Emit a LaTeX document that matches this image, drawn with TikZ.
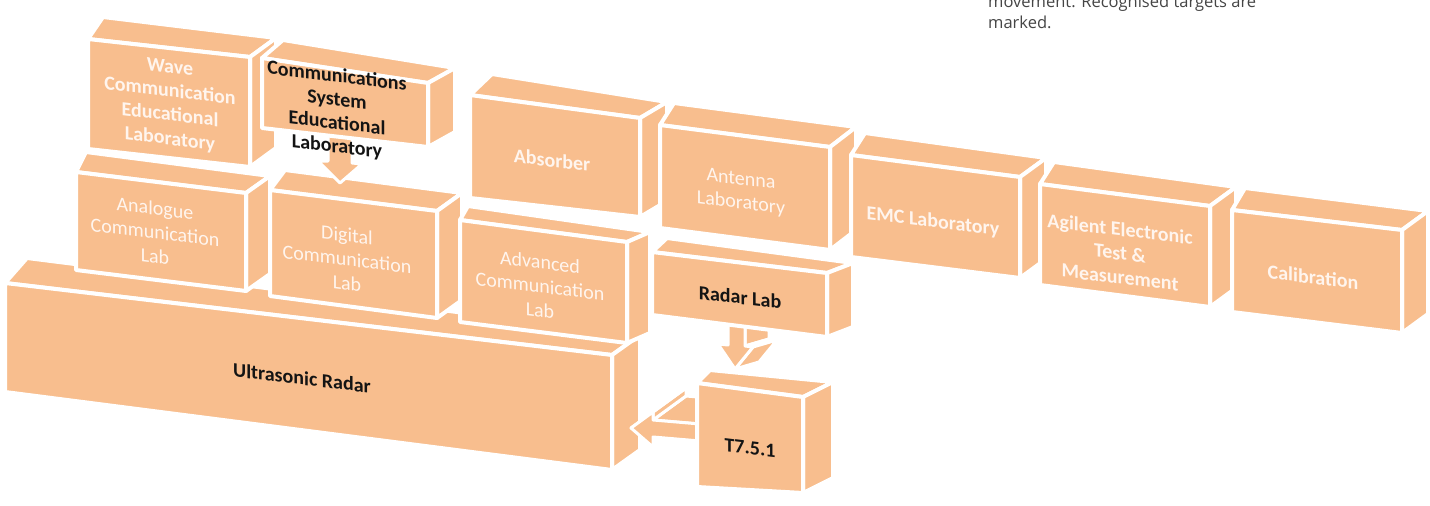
\documentclass[tikz,border=0pt]{standalone}
\usepackage{fontspec}
\setmainfont{Carlito}
\newfontfamily\captionfont{Open Sans}
\usetikzlibrary{calc}

\definecolor{peach}{HTML}{F8BE8E}
\definecolor{softwhite}{HTML}{FFF5EE}
\definecolor{inkgrey}{HTML}{454545}
\definecolor{inkblack}{HTML}{141414}

% A lab block: #1 name, #2..#5 front corners (TL, TR, BR, BL),
% #6 depth of the left top edge, #7 depth of the right edge
\newcommand\labbox[7]{%
  \coordinate (#1-tl) at (#2);
  \coordinate (#1-tr) at (#3);
  \coordinate (#1-br) at (#4);
  \coordinate (#1-bl) at (#5);
  \coordinate (#1-btl) at ($(#1-tl)+(#6)$);
  \coordinate (#1-btr) at ($(#1-tr)+(#7)$);
  \coordinate (#1-bbr) at ($(#1-br)+(#7)$);
  \path[face] (#1-tl) -- (#1-btl) -- (#1-btr) -- (#1-tr) -- cycle;
  \path[face] (#1-tr) -- (#1-btr) -- (#1-bbr) -- (#1-br) -- cycle;
  \path[face] (#1-tl) -- (#1-tr) -- (#1-br) -- (#1-bl) -- cycle;
}

\begin{document}
\begin{tikzpicture}[x=1pt,y=-1pt,
  face/.style={fill=peach,draw=white,line width=4pt,line join=round},
  arrowface/.style={fill=peach,draw=white,line width=3pt,line join=round},
  lbl/.style={align=center,yslant=-0.12,inner sep=0pt},
  lightlbl/.style={lbl,text=softwhite,font=\fontsize{20}{24}\selectfont},
  boldlight/.style={lbl,text=softwhite,font=\fontsize{20}{24}\selectfont\bfseries},
  darklbl/.style={lbl,text=inkblack,font=\fontsize{20}{23.5}\selectfont\bfseries},
  captxt/.style={anchor=base west,inner sep=0pt,text=inkgrey,
    font=\captionfont\fontsize{16.5}{20}\selectfont},
]
\useasboundingbox (0,0) rectangle (1430,506);
\fill[white] (0,0) rectangle (1430,506);

% lower tier
\labbox{ultra}{5,283}{612,355}{612,470}{5,392}{22,-25}{28,-20}
\labbox{analog}{76,172}{246,193}{246,291}{76,270}{10,-20}{24,-17}
\labbox{digital}{270,190}{437,211}{437,318}{270,296}{15,-20}{25,-18}
\labbox{advanced}{460,220}{627,242}{627,343}{460,322}{8,-14}{23,-10}

% arrow from T7.5.1 into the Ultrasonic Radar block
\coordinate (a3-start) at (700,432);
\coordinate (a3-tip) at (631,428);
\path[arrowface] let \p1=(a3-start) in
  (\x1-47pt,\y1+12pt) -- (\x1,\y1+8pt) -- (\x1+33pt,\y1+32pt) -- (\x1-14pt,\y1+36pt) -- cycle;
\path[arrowface] let \p1=(a3-start) in
  (\x1-47pt,\y1+20pt) -- (\x1-47pt,\y1+12pt) -- (\x1-14pt,\y1+36pt) -- (\x1-14pt,\y1+44pt) -- cycle;
\path[arrowface] let \p1=(a3-start), \p2=(a3-tip) in
  (\p2) -- (\x1-47pt,\y1+20pt) -- (\x1-14pt,\y1+44pt) -- (\x2+33pt,\y2+24pt) -- cycle;
\path[arrowface] let \p1=(a3-start), \p2=(a3-tip) in
  (\x1,\y1+8pt) -- (\x1-47pt,\y1+12pt) -- (\x1-47pt,\y1+20pt) -- (\p2)
  -- (\x1-47pt,\y1-15pt) -- (\x1-47pt,\y1-5pt) -- (\x1,\y1-9pt) -- cycle;

\labbox{tbox}{697,383}{803,397}{803,493}{697,487}{13,-13}{30,-15}

% arrow from Radar Lab down to T7.5.1
\coordinate (a2-start) at (737,322);
\coordinate (a2-tip) at (735,369);
\path[arrowface] let \p1=(a2-start), \p2=(a2-tip) in
  (\x1+8pt,\y1) -- (\x1+8pt,\y2+23pt) -- (\x1+32pt,\y2+30pt) -- (\x1+32pt,\y1+7pt) -- cycle;
\path[arrowface] let \p1=(a2-start), \p2=(a2-tip) in
  (\x1+8pt,\y2+23pt) -- (\x1+16pt,\y2+22pt) -- (\x1+40pt,\y2+29pt) -- (\x1+32pt,\y2+30pt) -- cycle;
\path[arrowface] let \p1=(a2-start), \p2=(a2-tip) in
  (\x1+16pt,\y2+22pt) -- (\p2) -- (\x2+24pt,\y2+7pt) -- (\x1+40pt,\y2+29pt) -- cycle;
\path[arrowface] let \p1=(a2-start), \p2=(a2-tip) in
  (\x1-9pt,\y1) -- (\x1+8pt,\y1) -- (\x1+8pt,\y2+23pt) -- (\x1+16pt,\y2+22pt) -- (\p2)
  -- (\x1-19pt,\y2+25pt) -- (\x1-9pt,\y2+24pt) -- cycle;

\labbox{radar}{652,252}{827,273}{827,337}{652,315}{15,-14}{26,-10}

% upper tier
\labbox{wave}{88,39}{250,57}{250,167}{88,149}{15,-22}{26,-19}

% arrow from the Communications System block down to Digital
\coordinate (a1-start) at (340,134);
\coordinate (a1-tip) at (340,183);
\path[arrowface] let \p1=(a1-start), \p2=(a1-tip) in
  (\x1-12pt,\y1) -- (\x1+12pt,\y1) -- (\x1+12pt,\y2+20pt) -- (\x1+22pt,\y2+19pt) -- (\p2)
  -- (\x1-22pt,\y2+22pt) -- (\x1-12pt,\y2+22pt) -- cycle;

\labbox{comm}{262,58}{428,83}{428,147}{262,128}{21,-18}{27,-15}
\labbox{absorb}{470,95}{640,118}{640,217}{470,198}{22,-21}{27,-16}
\labbox{antenna}{660,125}{830,147}{830,250}{660,228}{14,-22}{26,-20}
\labbox{emc}{851,155}{1020,177}{1020,278}{851,257}{14,-22}{26,-19}
\labbox{agilent}{1040,184}{1210,206}{1210,307}{1040,285}{14,-22}{26,-19}
\labbox{calib}{1232,210}{1402,230}{1402,333}{1232,312}{13,-22}{26,-19}

% labels
\node[boldlight] (wave) at (170,104) {Wave\\Communication\\Educational\\Laboratory};
\node[darklbl] (comm) at (337,112) {Communications\\System\\Educational\\Laboratory};
\node[boldlight] (absorb) at (552,160) {Absorber};
\node[lightlbl] (antenna) at (741,192) {Antenna\\Laboratory};
\node[boldlight] (emc) at (933,222) {EMC Laboratory};
\node[boldlight] (agilent) at (1120,253) {Agilent Electronic\\Test \&\\Measurement};
\node[boldlight] (calib) at (1313,277) {Calibration};
\node[lightlbl] (analog) at (155,232) {Analogue\\Communication\\Lab};
\node[lightlbl] (digital) at (347,259) {Digital\\Communication\\Lab};
\node[lightlbl] (advanced) at (540,286) {Advanced\\Communication\\Lab};
\node[darklbl] (radar) at (740,297) {Radar Lab};
\node[darklbl] (ultra) at (302,378) {Ultrasonic Radar};
\node[darklbl] (tbox) at (750,448) {T7.5.1};

% caption running in from above
\node[captxt] (cap1) at (988,8) {movement. Recognised targets are};
\node[captxt] (cap2) at (988,28) {marked.};
\end{tikzpicture}
\end{document}
